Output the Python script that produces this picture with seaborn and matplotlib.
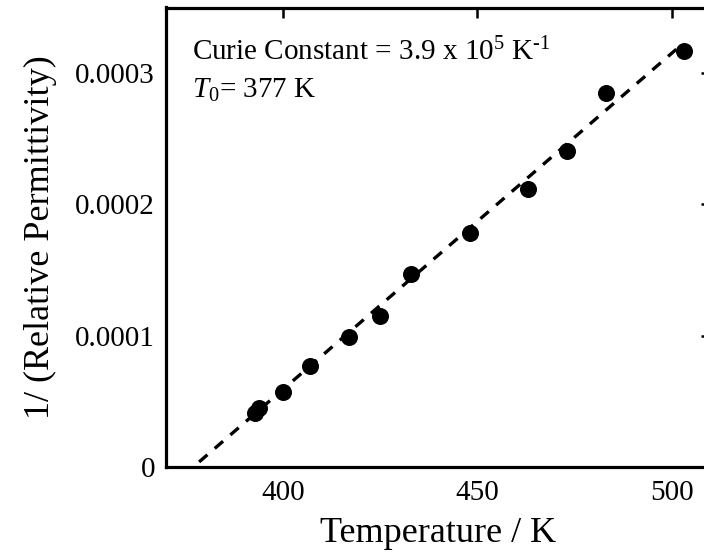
import numpy as np
import pandas as pd
import matplotlib
matplotlib.use("Agg")
import matplotlib.pyplot as plt
import seaborn as sns

# Data
temperature = [392.8, 394.0, 400, 407, 417, 425, 433, 448, 463, 473, 483, 503]
inv_permittivity = [4.1e-5, 4.5e-5, 5.7e-5, 7.7e-5, 9.9e-5, 11.5e-5, 14.7e-5,
                    17.8e-5, 21.2e-5, 24.1e-5, 28.5e-5, 31.7e-5]
curie_constant = 3.9e5
t0 = 377.0
fit_range = [378.5, 503.0]
x_ticks = [400, 450, 500]
y_ticks = [0, 0.0001, 0.0002, 0.0003]
y_tick_labels = ["0", "0.0001", "0.0002", "0.0003"]

df = pd.DataFrame({"T": temperature, "inv": inv_permittivity})
fit_T = np.array(fit_range)
fit_df = pd.DataFrame({"T": fit_T, "inv": (fit_T - t0) / curie_constant})

sns.set_theme(style="white")
plt.rcParams["font.family"] = ["Liberation Serif", "DejaVu Serif"]
plt.rcParams["mathtext.fontset"] = "custom"
plt.rcParams["mathtext.rm"] = "Liberation Serif"
plt.rcParams["mathtext.it"] = "Liberation Serif:italic"

fig = plt.figure(figsize=(7.04, 5.58), dpi=100)
ax = fig.add_axes([166 / 704, 91 / 558, 545 / 704, 459.5 / 558])

sns.lineplot(data=fit_df, x="T", y="inv", ax=ax, color="black", lw=2.4,
             dashes=False, zorder=2)
ax.lines[-1].set_dashes([3.3, 2.9])
sns.scatterplot(data=df, x="T", y="inv", ax=ax, color="black", s=150,
                edgecolor="black", linewidth=0, zorder=3)

ax.set_xlim(370, 510)
ax.set_ylim(0, 0.00035)
ax.set_xticks(x_ticks)
ax.set_yticks(y_ticks)
ax.set_yticklabels(y_tick_labels)

for s in ax.spines.values():
    s.set_linewidth(2.3)
    s.set_color("black")
    s.set_visible(True)

ax.tick_params(axis="both", which="major", direction="in", length=7.5,
               width=1.8, color="black", labelsize=21, top=True, right=True,
               labelcolor="black")
ax.tick_params(axis="x", pad=9)
ax.tick_params(axis="y", pad=8)

ax.set_xlabel("Temperature / K", fontsize=26, labelpad=8, color="black")
ax.set_ylabel("1/ (Relative Permittivity)", fontsize=26, labelpad=13, color="black")

ax.text(0.047, 0.935, r"Curie Constant = 3.9 x 10$^{5}$ K$^{\text{-}1}$",
        transform=ax.transAxes, fontsize=21, va="top", ha="left", color="black")
ax.text(0.047, 0.85, r"$T_{0}$= 377 K",
        transform=ax.transAxes, fontsize=21, va="top", ha="left", color="black")

ax.grid(False)
fig.savefig("out.png", dpi=100)
